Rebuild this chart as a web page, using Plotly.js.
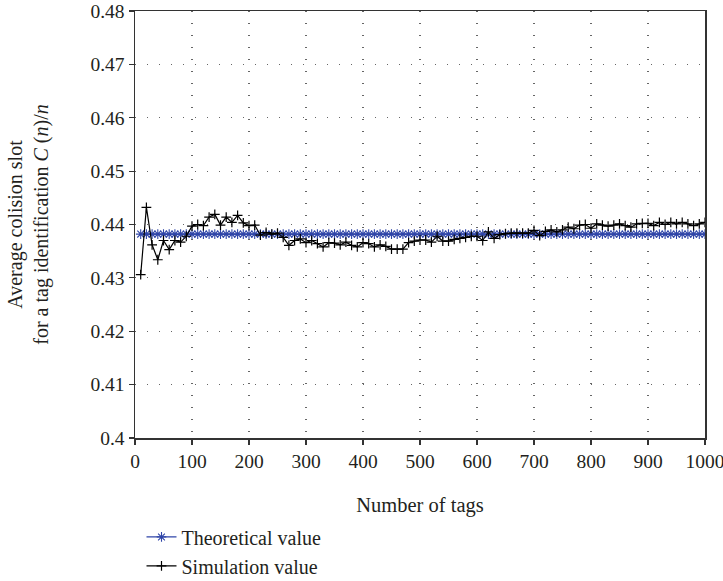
<!DOCTYPE html>
<html>
<head>
<meta charset="utf-8">
<script src="https://cdn.plot.ly/plotly-3.0.1.min.js"></script>
<style>html,body{margin:0;padding:0;background:#fff;}#chart{width:723px;height:581px;}</style>
</head>
<body>
<div id="chart"></div>
<script>
const tags = [10,20,30,40,50,60,70,80,90,100,110,120,130,140,150,160,170,180,190,200,
  210,220,230,240,250,260,270,280,290,300,310,320,330,340,350,360,370,380,390,400,
  410,420,430,440,450,460,470,480,490,500,510,520,530,540,550,560,570,580,590,600,
  610,620,630,640,650,660,670,680,690,700,710,720,730,740,750,760,770,780,790,800,
  810,820,830,840,850,860,870,880,890,900,910,920,930,940,950,960,970,980,990,1000];

const theoretical = [0.4382,0.4382,0.4382,0.4382,0.4382,0.4382,0.4382,0.4382,0.4382,0.4382,
  0.4382,0.4382,0.4382,0.4382,0.4382,0.4382,0.4382,0.4382,0.4382,0.4382,
  0.4382,0.4382,0.4382,0.4382,0.4382,0.4382,0.4382,0.4382,0.4382,0.4382,
  0.4382,0.4382,0.4382,0.4382,0.4382,0.4382,0.4382,0.4382,0.4382,0.4382,
  0.4382,0.4382,0.4382,0.4382,0.4382,0.4382,0.4382,0.4382,0.4382,0.4382,
  0.4382,0.4382,0.4382,0.4382,0.4382,0.4382,0.4382,0.4382,0.4382,0.4382,
  0.4382,0.4382,0.4382,0.4382,0.4382,0.4382,0.4382,0.4382,0.4382,0.4382,
  0.4382,0.4382,0.4382,0.4382,0.4382,0.4382,0.4382,0.4382,0.4382,0.4382,
  0.4382,0.4382,0.4382,0.4382,0.4382,0.4382,0.4382,0.4382,0.4382,0.4382,
  0.4382,0.4382,0.4382,0.4382,0.4382,0.4382,0.4382,0.4382,0.4382,0.4382];

const simulation = [0.4306,0.4432,0.4362,0.4334,0.4370,0.4353,0.4370,0.4367,0.4378,0.4397,
  0.4400,0.4398,0.4414,0.4419,0.4399,0.4414,0.4404,0.4417,0.4403,0.4398,
  0.4399,0.4380,0.4385,0.4382,0.4384,0.4376,0.4361,0.4370,0.4373,0.4366,
  0.4370,0.4364,0.4358,0.4366,0.4365,0.4362,0.4367,0.4361,0.4358,0.4366,
  0.4364,0.4358,0.4362,0.4359,0.4354,0.4354,0.4354,0.4366,0.4369,0.4371,
  0.4371,0.4367,0.4378,0.4369,0.4369,0.4372,0.4374,0.4376,0.4378,0.4378,
  0.4370,0.4386,0.4374,0.4381,0.4383,0.4384,0.4384,0.4384,0.4384,0.4389,
  0.4379,0.4387,0.4390,0.4386,0.4390,0.4395,0.4392,0.4399,0.4400,0.4393,
  0.4401,0.4399,0.4397,0.4399,0.4401,0.4398,0.4395,0.4401,0.4402,0.4402,
  0.4398,0.4404,0.4400,0.4404,0.4401,0.4404,0.4401,0.4398,0.4401,0.4404];

const xTicks = [0,100,200,300,400,500,600,700,800,900,1000];
const yTicks = [0.4,0.41,0.42,0.43,0.44,0.45,0.46,0.47,0.48];

const FONT = '"Liberation Serif", "Times New Roman", serif';
const TXT = '#231f20';
const FTICK = {family: FONT, size: 19.5, color: TXT};
const FTITLE = {family: FONT, size: 20.5, color: TXT};
const FLEG = {family: FONT, size: 20, color: TXT};
const FYTITLE = {family: FONT, size: 20, color: TXT};
const BLUE = '#2f45a8';

const traces = [
  {
    x: tags, y: theoretical, name: 'Theoretical value', type: 'scatter', mode: 'lines+markers',
    line: {color: BLUE, width: 1.2},
    marker: {symbol: 'asterisk-open', size: 8, color: BLUE, line: {color: BLUE, width: 1.1}}
  },
  {
    x: tags, y: simulation, name: 'Simulation value', type: 'scatter', mode: 'lines+markers',
    line: {color: '#000000', width: 1.2},
    marker: {symbol: 'cross-thin-open', size: 7, color: '#000', line: {color: '#000000', width: 1.2}}
  }
];

const layout = {
  width: 723, height: 581,
  margin: {l: 134.5, r: 18, t: 10.7, b: 143.3, autoexpand: false},
  paper_bgcolor: '#fff', plot_bgcolor: '#fff',
  font: FTICK,
  showlegend: true,
  legend: {
    x: 0.0114, xanchor: 'left', y: -0.186, yanchor: 'top',
    bgcolor: 'rgba(0,0,0,0)', font: FLEG,
    tracegroupgap: 0
  },
  xaxis: {
    range: [0, 1000], tickvals: xTicks, ticktext: xTicks.map(String),
    tickfont: FTICK,
    ticks: 'outside', ticklen: 5, tickcolor: '#333', tickwidth: 1.2,
    ticklabeloverflow: 'allow',
    showline: true, linecolor: '#333', linewidth: 1.5, mirror: true,
    showgrid: true, gridcolor: '#666', gridwidth: 1.1, griddash: '1.4px,10.6px',
    zeroline: false, automargin: false,
    title: {text: 'Number of tags', font: FTITLE, standoff: 26}
  },
  yaxis: {
    range: [0.4, 0.48], tickvals: yTicks, ticktext: yTicks.map(String),
    tickfont: FTICK,
    ticks: 'outside', ticklen: 5, tickcolor: '#333', tickwidth: 1.2,
    showline: true, linecolor: '#333', linewidth: 1.5, mirror: true,
    showgrid: true, gridcolor: '#666', gridwidth: 1.1, griddash: '1.4px,10.6px',
    zeroline: false, automargin: false,
    title: {text: 'Average colision slot<br>for a tag identification <i>C</i> (<i>n</i>)/<i>n</i>',
            font: FYTITLE, standoff: 36}
  }
};

Plotly.newPlot('chart', traces, layout, {displayModeBar: false, staticPlot: true});
</script>
</body>
</html>
